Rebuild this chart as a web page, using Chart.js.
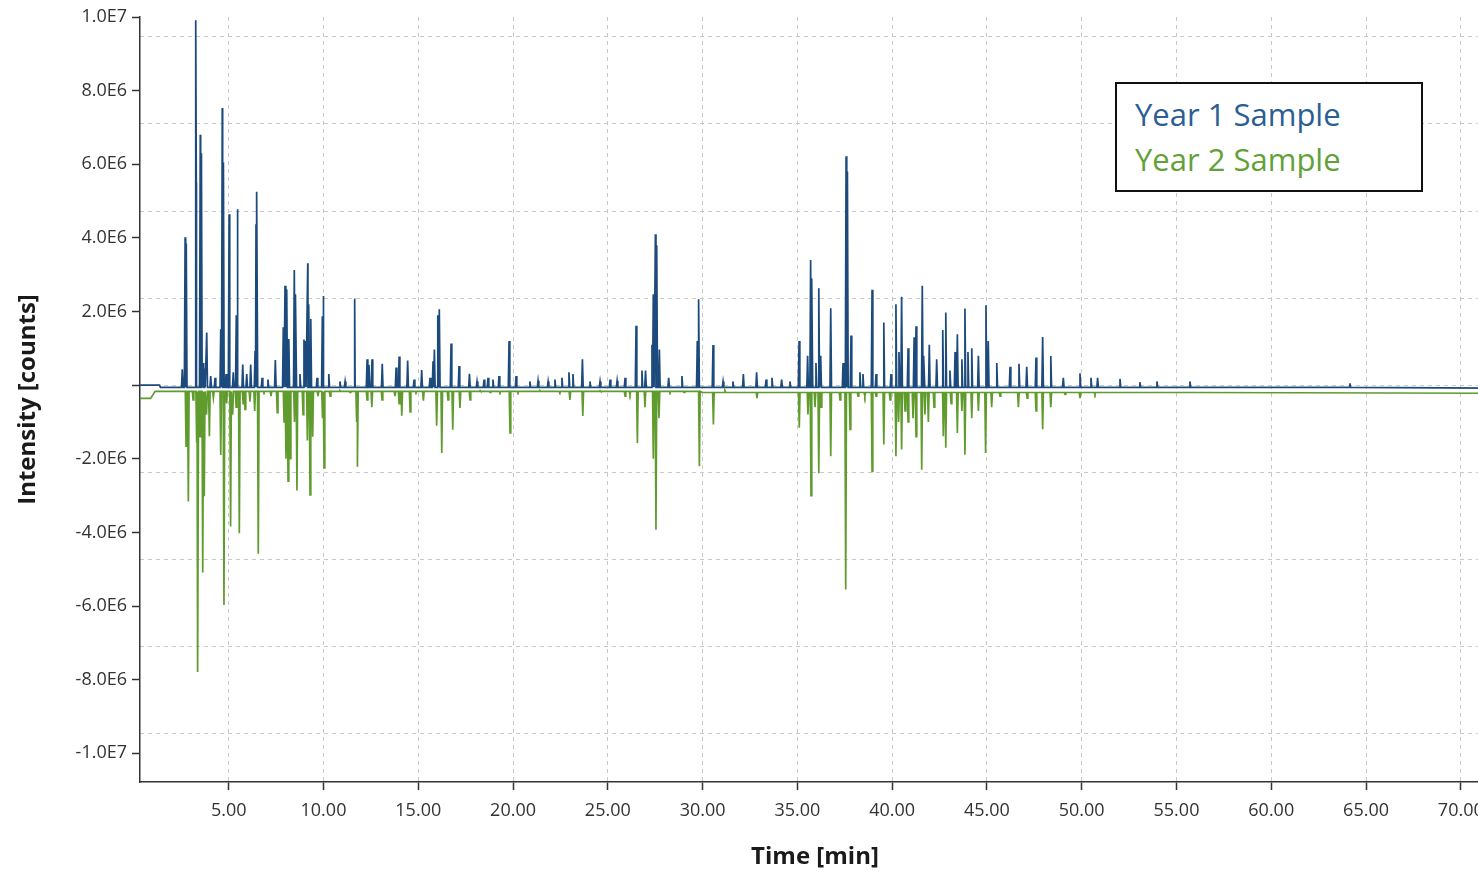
<!DOCTYPE html>
<html>
<head>
<meta charset="utf-8">
<title>Chromatogram - Year 1 vs Year 2 Sample</title>
<script src="https://cdn.jsdelivr.net/npm/chart.js@4.4.1/dist/chart.umd.min.js"></script>
<style>
  html, body { margin: 0; padding: 0; overflow: hidden; background: #fff; }
  #wrap { position: relative; width: 1500px; height: 873px; }
  #legendBox {
    position: absolute; left: 1115px; top: 82px;
    width: 308px; height: 110px; box-sizing: border-box;
    border: 2px solid #111; background: #fff;
    padding: 8px 0 0 18px;
    font-family: "Open Sans", Lato, sans-serif; font-size: 31px; line-height: 45px;
  }
  #legendBox .y1 { color: #2b5e93; }
  #legendBox .y2 { color: #62a13a; }
</style>
</head>
<body>
<div id="wrap">
  <canvas id="chromChart"></canvas>
  <div id="legendBox">
    <div class="y1">Year 1 Sample</div>
    <div class="y2">Year 2 Sample</div>
  </div>
</div>
<script>
/* --------------------------------------------
   Data (time in min, intensity in 1E6 counts)
-------------------------------------------- */
const MEGA = 1e6;

const xTicks = [5, 10, 15, 20, 25, 30, 35, 40, 45, 50, 55, 60, 65, 70];
const yTicks = [-1e7, -8e6, -6e6, -4e6, -2e6, 0, 2e6, 4e6, 6e6, 8e6, 1e7];

// Year 1: baseline knots
const y1BaseTime = [0.32, 1.35, 1.40, 71.6];
const y1BaseLevel = [0.0, 0.0, -0.06, -0.08];

// Year 1: peak apexes
const y1PeakTime = [
  2.55, 2.70, 2.76, 3.26, 3.29, 3.50, 3.56, 3.66, 3.72, 3.84, 4.05, 4.28, 4.58, 4.66, 4.72, 4.86,
  5.02, 5.05, 5.24, 5.40, 5.45, 5.74, 5.95, 6.16, 6.39, 6.44, 6.49, 6.76, 7.07, 7.46, 7.88, 7.97,
  8.06, 8.17, 8.46, 8.54, 8.76, 8.97, 9.04, 9.17, 9.22, 9.33, 9.66, 9.94, 9.98, 10.28, 10.87, 11.14,
  11.63, 11.66, 12.30, 12.40, 12.56, 13.10, 13.83, 13.99, 14.44, 14.78, 15.18, 15.62, 15.78, 15.85,
  16.03, 16.11, 16.73, 17.15, 17.70, 18.10, 18.47, 18.68, 18.94, 19.26, 19.79, 20.16, 20.89, 21.32,
  21.85, 22.21, 22.58, 22.95, 23.16, 23.66, 24.06, 24.59, 25.12, 25.49, 25.91, 26.49, 26.80, 26.99,
  27.33, 27.40, 27.51, 27.58, 27.72, 28.21, 28.91, 29.72, 29.79, 30.55, 31.08, 31.60, 32.15, 32.85,
  33.35, 33.66, 34.17, 34.61, 35.09, 35.54, 35.70, 35.77, 35.98, 36.13, 36.23, 36.76, 37.41, 37.57,
  37.64, 37.83, 38.30, 38.46, 38.94, 39.15, 39.56, 39.94, 40.20, 40.36, 40.50, 40.84, 41.16, 41.26,
  41.59, 41.68, 41.96, 42.35, 42.67, 42.83, 43.05, 43.32, 43.44, 43.68, 43.84, 44.00, 44.20, 44.55,
  44.95, 45.07, 45.52, 46.22, 46.69, 47.10, 47.59, 47.94, 48.37, 49.03, 49.91, 50.49, 50.84, 52.02,
  53.07, 53.97, 55.71, 64.15
];
const y1PeakHeight = [
  0.43, 4.02, 3.85, 9.91, 5.5, 6.8, 6.3, 0.6, 0.45, 1.43, 0.25, 0.2, 1.52, 7.53, 6.05, 0.3,
  4.64, 2.99, 0.35, 1.9, 4.78, 0.56, 0.3, 0.56, 0.93, 4.37, 5.25, 0.2, 0.15, 0.68, 1.57, 2.7,
  2.6, 1.25, 3.13, 2.47, 0.3, 1.24, 1.2, 3.31, 2.2, 1.8, 0.2, 1.87, 2.42, 0.3, 0.1, 0.1,
  1.46, 2.35, 0.7, 0.55, 0.7, 0.58, 0.48, 0.78, 0.67, 0.15, 0.41, 0.2, 0.65, 0.97,
  1.9, 2.06, 1.13, 0.52, 0.31, 0.1, 0.15, 0.2, 0.15, 0.25, 1.2, 0.25, 0.1, 0.12,
  0.1, 0.15, 0.2, 0.35, 0.3, 0.7, 0.1, 0.1, 0.15, 0.12, 0.2, 1.61, 0.4, 0.4,
  1.1, 2.47, 4.1, 3.8, 0.97, 0.2, 0.25, 1.2, 2.33, 1.09, 0.1, 0.1, 0.3, 0.35,
  0.15, 0.2, 0.15, 0.1, 1.2, 0.8, 3.4, 2.9, 0.6, 2.63, 0.8, 2.09, 0.6, 6.22,
  5.8, 1.35, 0.35, 0.3, 2.59, 0.3, 1.7, 0.3, 2.2, 0.9, 2.4, 1.0, 1.3, 1.6,
  2.7, 0.8, 1.1, 0.7, 1.5, 1.97, 0.4, 0.9, 1.38, 0.7, 2.08, 0.9, 1.0, 0.8,
  2.17, 1.2, 0.6, 0.5, 0.58, 0.5, 0.75, 1.31, 0.79, 0.2, 0.32, 0.2, 0.2, 0.17,
  0.08, 0.1, 0.1, 0.05
];

// Year 2 (plotted mirrored): baseline knots
const y2BaseTime = [0.32, 0.88, 1.12, 30.0, 71.6];
const y2BaseLevel = [-0.36, -0.36, -0.17, -0.2, -0.22];

// Year 2: peak apexes
const y2PeakTime = [
  2.75, 2.87, 3.12, 3.31, 3.37, 3.49, 3.63, 3.71, 3.83, 3.98, 4.19, 4.58, 4.75, 4.89, 5.10, 5.21,
  5.39, 5.56, 5.76, 5.86, 6.12, 6.37, 6.56, 6.86, 7.23, 7.56, 7.92, 8.02, 8.13, 8.24, 8.47, 8.60,
  8.92, 9.15, 9.29, 9.43, 9.71, 9.95, 10.03, 10.35, 10.87, 11.40, 11.75, 11.79, 12.30, 12.55, 13.09, 13.77,
  13.99, 14.13, 14.57, 14.88, 15.27, 15.97, 16.24, 16.57, 16.82, 17.20, 17.73, 18.26, 18.79, 19.31,
  19.84, 20.26, 21.42, 22.47, 23.00, 23.68, 24.59, 25.91, 26.17, 26.56, 26.96, 27.40, 27.54, 27.70,
  28.28, 29.02, 29.83, 30.57, 31.18, 32.24, 32.87, 33.56, 34.35, 35.10, 35.56, 35.72, 35.93, 36.13,
  36.25, 36.76, 37.25, 37.55, 37.78, 38.20, 38.56, 38.94, 39.15, 39.56, 39.89, 40.20, 40.34, 40.50,
  40.68, 40.84, 41.10, 41.26, 41.56, 41.73, 41.91, 42.21, 42.70, 42.83, 43.11, 43.44, 43.68, 43.84,
  44.20, 44.55, 44.93, 45.25, 45.69, 46.66, 47.12, 47.59, 47.94, 48.37, 49.12, 49.91, 50.70, 51.50,
  52.29, 55.71
];
const y2PeakHeight = [
  -1.66, -3.16, -0.4, -1.56, -7.79, -1.4, -5.09, -3.02, -0.8, -1.39, -0.35, -1.9, -5.97, -0.5, -3.84, -0.8,
  -0.6, -4.02, -0.5, -0.66, -0.45, -0.7, -4.58, -0.2, -0.3, -0.75, -1.0, -2.0, -2.61, -2.0, -1.0, -2.86,
  -0.8, -1.5, -2.98, -1.4, -0.3, -0.9, -2.25, -0.3, -0.15, -0.2, -1.0, -2.22, -0.4, -0.6, -0.4, -0.3,
  -0.5, -0.83, -0.73, -0.2, -0.42, -1.1, -1.84, -0.4, -1.21, -0.62, -0.4, -0.15, -0.2, -0.2,
  -1.3, -0.2, -0.15, -0.2, -0.4, -0.84, -0.15, -0.3, -0.25, -1.57, -0.6, -2.0, -3.93, -0.9,
  -0.2, -0.2, -2.2, -1.07, -0.15, -0.2, -0.35, -0.2, -0.2, -1.16, -0.8, -3.0, -0.6, -2.39,
  -0.6, -1.93, -0.4, -5.55, -1.2, -0.3, -0.3, -2.34, -0.3, -1.61, -0.4, -1.93, -1.0, -1.75,
  -0.7, -1.0, -0.9, -1.4, -2.3, -0.8, -1.0, -0.6, -1.39, -1.7, -0.5, -1.3, -0.7, -1.89,
  -0.9, -0.7, -1.84, -0.6, -0.3, -0.6, -0.35, -0.7, -1.2, -0.6, -0.25, -0.35, -0.25, -0.2,
  -0.2, -0.2
];

/* --------------------------------------------
   Trace building
-------------------------------------------- */
const peakHalfWidth = 0.04; // min, drawn spike half width

const buildTrace = (baseTime, baseLevel, peakTime, peakHeight) => {
  const baseAt = (t) => {
    let v = baseLevel[0];
    baseTime.forEach((bt, i) => { if (bt <= t) v = baseLevel[i]; });
    return v * MEGA;
  };
  const pts = baseTime.map((t, i) => ({ x: t, y: baseLevel[i] * MEGA }));
  peakTime.forEach((t, i) => {
    const b = baseAt(t);
    pts.push({ x: t - peakHalfWidth, y: b });
    pts.push({ x: t, y: peakHeight[i] * MEGA });
    pts.push({ x: t + peakHalfWidth, y: b });
  });
  return pts.sort((a, b) => a.x - b.x);
};

const formatSci = (v) => {
  if (v === 0) return "";
  return v.toExponential(1).replace("e+", "E").replace("e-", "E-").toUpperCase();
};

/* --------------------------------------------
   Chart
-------------------------------------------- */
Chart.defaults.font.family = "'Open Sans', sans-serif";
Chart.defaults.color = "#333";

const gridStep = 2.365e6; // dashed horizontal grid spacing in the source plot

new Chart(document.getElementById("chromChart"), {
  type: "scatter",
  data: {
    datasets: [
      {
        label: "Year 2 Sample",
        data: buildTrace(y2BaseTime, y2BaseLevel, y2PeakTime, y2PeakHeight),
        showLine: true,
        borderColor: "#5f9b2d",
        borderWidth: 1.7,
        pointRadius: 0,
        tension: 0,
      },
      {
        label: "Year 1 Sample",
        data: buildTrace(y1BaseTime, y1BaseLevel, y1PeakTime, y1PeakHeight),
        showLine: true,
        borderColor: "#1c4a7c",
        borderWidth: 1.7,
        pointRadius: 0,
        tension: 0,
      },
    ],
  },
  options: {
    responsive: true,
    maintainAspectRatio: false,
    animation: false,
    events: [],
    layout: { padding: { top: 17, right: 10, bottom: 0, left: 0 } },
    plugins: {
      legend: { display: false },
      tooltip: { enabled: false },
    },
    scales: {
      x: {
        type: "linear",
        min: 0.32,
        max: 71.54,
        afterBuildTicks: (scale) => {
          scale.ticks = xTicks.map((v) => ({ value: v }));
        },
        afterFit: (scale) => { scale.height = 91; },
        ticks: {
          callback: (v) => v.toFixed(2),
          font: { size: 18 },
          color: "#333",
          padding: 10,
          maxRotation: 0,
          autoSkip: false,
        },
        grid: {
          color: "#c9c9c9",
          lineWidth: 1,
          tickColor: "#333",
          tickLength: 8,
          tickWidth: 1.5,
          tickBorderDash: [],
        },
        border: { color: "#333", width: 1.5, dash: [4, 4] },
        title: {
          display: true,
          text: "Time [min]",
          color: "#1a1a1a",
          font: { size: 24, weight: "bold" },
          padding: { top: 0, bottom: 1 },
        },
      },
      y: {
        type: "linear",
        position: "left",
        min: -10.78e6,
        max: 1.0e7,
        afterBuildTicks: (scale) => {
          scale.ticks = yTicks.map((v) => ({ value: v }));
        },
        afterFit: (scale) => { scale.width = 140; },
        ticks: {
          callback: (v) => formatSci(v),
          font: { size: 18 },
          color: "#333",
          padding: 5,
          autoSkip: false,
        },
        grid: {
          drawOnChartArea: false,
          tickColor: "#333",
          tickLength: 8,
          tickWidth: 1.5,
        },
        border: { color: "#333", width: 1.5 },
        title: {
          display: true,
          text: "Intensity [counts]",
          color: "#1a1a1a",
          font: { size: 24, weight: "bold" },
          padding: { top: 14, bottom: 0 },
        },
      },
      yGrid: {
        type: "linear",
        position: "left",
        min: -10.78e6,
        max: 1.0e7,
        afterBuildTicks: (scale) => {
          const vals = [];
          for (let k = -4; k <= 4; k++) vals.push(k * gridStep);
          scale.ticks = vals.map((v) => ({ value: v }));
        },
        afterFit: (scale) => { scale.width = 0; },
        ticks: { display: false },
        grid: { color: "#c9c9c9", lineWidth: 1, drawTicks: false },
        border: { display: false, dash: [4, 4] },
      },
    },
  },
});
</script>
</body>
</html>
